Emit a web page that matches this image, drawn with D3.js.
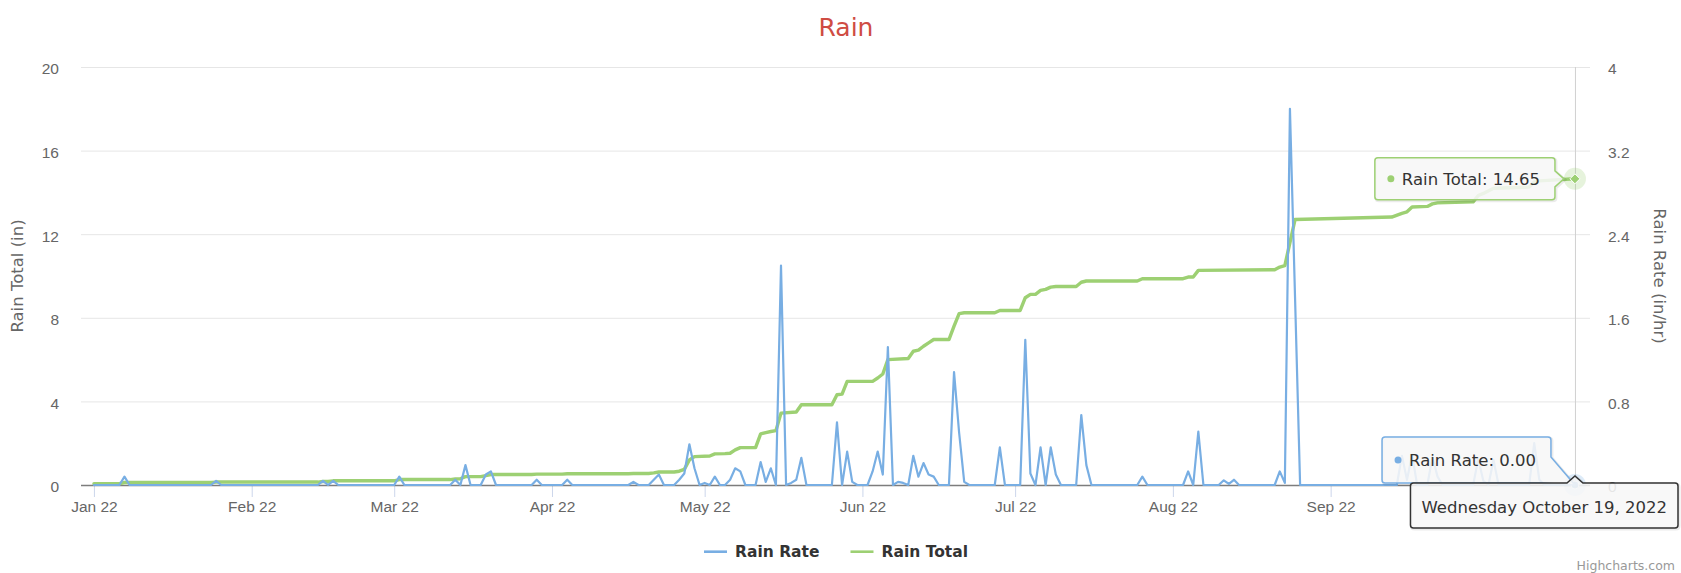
<!DOCTYPE html>
<html>
<head>
<meta charset="utf-8">
<title>Rain</title>
<script src="https://cdn.jsdelivr.net/npm/d3@7"></script>
<style>
    html, body { margin: 0; padding: 0; background: #fff; }
    svg { display: block; font-family: "DejaVu Sans", "Lucida Grande", sans-serif; }
</style>
</head>
<body>
<div id="chart"></div>
<script>
// Rain rate (in/hr), only the vertices of the line
const rateDates = [
    "2022-01-01","2022-01-06","2022-01-07","2022-01-08","2022-01-24","2022-01-25","2022-01-26",
    "2022-02-14","2022-02-15","2022-02-16","2022-02-17","2022-02-18",
    "2022-03-01","2022-03-02","2022-03-03","2022-03-12","2022-03-13","2022-03-14","2022-03-15","2022-03-16",
    "2022-03-18","2022-03-19","2022-03-20","2022-03-21","2022-03-28","2022-03-29","2022-03-30",
    "2022-04-03","2022-04-04","2022-04-05","2022-04-16","2022-04-17","2022-04-18",
    "2022-04-20","2022-04-21","2022-04-22","2022-04-23","2022-04-25","2022-04-26","2022-04-27","2022-04-28","2022-04-29","2022-04-30",
    "2022-05-01","2022-05-02","2022-05-03","2022-05-04","2022-05-05","2022-05-06","2022-05-07","2022-05-08","2022-05-09",
    "2022-05-11","2022-05-12","2022-05-13","2022-05-14","2022-05-15","2022-05-16","2022-05-17","2022-05-18","2022-05-19","2022-05-20","2022-05-21",
    "2022-05-26","2022-05-27","2022-05-28","2022-05-29","2022-05-30","2022-05-31",
    "2022-06-02","2022-06-03","2022-06-04","2022-06-05","2022-06-06","2022-06-07","2022-06-08","2022-06-09","2022-06-10",
    "2022-06-11","2022-06-12","2022-06-13","2022-06-14","2022-06-15","2022-06-16",
    "2022-06-18","2022-06-19","2022-06-20","2022-06-21","2022-06-22","2022-06-27","2022-06-28","2022-06-29",
    "2022-07-02","2022-07-03","2022-07-04","2022-07-05","2022-07-06","2022-07-07","2022-07-08","2022-07-09","2022-07-10",
    "2022-07-13","2022-07-14","2022-07-15","2022-07-16","2022-07-25","2022-07-26","2022-07-27",
    "2022-08-03","2022-08-04","2022-08-05","2022-08-06","2022-08-07","2022-08-10","2022-08-11","2022-08-12","2022-08-13","2022-08-14",
    "2022-08-21","2022-08-22","2022-08-23","2022-08-24","2022-08-25","2022-08-26",
    "2022-09-14","2022-09-15","2022-09-16","2022-09-17","2022-09-18","2022-09-20","2022-09-21","2022-09-22","2022-09-23",
    "2022-09-29","2022-09-30","2022-10-01","2022-10-02","2022-10-03","2022-10-04",
    "2022-10-10","2022-10-11","2022-10-12","2022-10-13","2022-10-19"
];
const rateValues = [
    0, 0, 0.08, 0, 0, 0.04, 0,
    0, 0.04, 0, 0.04, 0,
    0, 0.08, 0, 0, 0.05, 0, 0.19, 0,
    0, 0.1, 0.13, 0, 0, 0.05, 0,
    0, 0.05, 0, 0, 0.03, 0,
    0, 0.05, 0.1, 0, 0, 0.05, 0.11, 0.39, 0.16, 0,
    0.02, 0, 0.08, 0, 0, 0.05, 0.16, 0.13, 0,
    0, 0.22, 0.03, 0.16, 0, 2.1, 0, 0.02, 0.05, 0.26, 0,
    0, 0.6, 0, 0.32, 0.03, 0,
    0, 0.13, 0.32, 0.1, 1.32, 0, 0.03, 0.02, 0,
    0.28, 0.08, 0.21, 0.1, 0.08, 0,
    0, 1.08, 0.5, 0.03, 0, 0, 0.36, 0,
    0, 1.39, 0.11, 0, 0.36, 0, 0.36, 0.1, 0,
    0, 0.67, 0.19, 0, 0, 0.08, 0,
    0, 0.13, 0, 0.51, 0, 0, 0.045, 0.01, 0.05, 0,
    0, 0.13, 0.02, 3.6, 1.8, 0,
    0, 0.28, 0.05, 0.29, 0, 0, 0.27, 0.08, 0,
    0, 0.25, 0.04, 0, 0.24, 0,
    0, 0.4, 0.05, 0, 0
];

// Rain total (in), vertices of the cumulative line
const totalDates = [
    "2022-01-01","2022-01-06","2022-01-07","2022-01-24","2022-01-25","2022-02-14","2022-02-15","2022-02-16","2022-02-17",
    "2022-03-01","2022-03-02","2022-03-12","2022-03-13","2022-03-14","2022-03-15","2022-03-18","2022-03-19","2022-03-20",
    "2022-03-28","2022-03-29","2022-04-03","2022-04-04","2022-04-16","2022-04-17","2022-04-20","2022-04-21","2022-04-22",
    "2022-04-25","2022-04-26","2022-04-27","2022-04-28","2022-04-29",
    "2022-05-02","2022-05-03","2022-05-05","2022-05-06","2022-05-07","2022-05-08","2022-05-11","2022-05-12","2022-05-13",
    "2022-05-14","2022-05-15","2022-05-16","2022-05-19","2022-05-20","2022-05-26","2022-05-27","2022-05-28","2022-05-29",
    "2022-06-03","2022-06-04","2022-06-05","2022-06-06","2022-06-10","2022-06-11","2022-06-12","2022-06-13","2022-06-14",
    "2022-06-15","2022-06-18","2022-06-19","2022-06-20","2022-06-21","2022-06-27","2022-06-28",
    "2022-07-02","2022-07-03","2022-07-04","2022-07-05","2022-07-06","2022-07-07","2022-07-08","2022-07-09","2022-07-13",
    "2022-07-14","2022-07-15","2022-07-25","2022-07-26",
    "2022-08-03","2022-08-04","2022-08-05","2022-08-06","2022-08-21","2022-08-22","2022-08-23","2022-08-25",
    "2022-09-13","2022-09-15","2022-09-16","2022-09-17","2022-09-20","2022-09-21","2022-09-22","2022-09-29","2022-09-30",
    "2022-10-01","2022-10-03","2022-10-10","2022-10-11","2022-10-12","2022-10-19"
];
const totalValues = [
    0.06, 0.06, 0.12, 0.12, 0.14, 0.14, 0.17, 0.17, 0.2,
    0.2, 0.26, 0.26, 0.29, 0.3, 0.4, 0.4, 0.45, 0.5,
    0.5, 0.52, 0.52, 0.54, 0.54, 0.55, 0.55, 0.58, 0.62,
    0.62, 0.66, 0.75, 1.2, 1.36,
    1.39, 1.49, 1.5, 1.52, 1.68, 1.79, 1.79, 2.45, 2.51,
    2.56, 2.6, 3.44, 3.49, 3.84, 3.84, 4.32, 4.35, 4.96,
    4.96, 5.12, 5.31, 6.0, 6.05, 6.4, 6.45, 6.64, 6.8,
    6.96, 6.96, 7.6, 8.2, 8.24, 8.24, 8.35,
    8.35, 8.96, 9.12, 9.12, 9.31, 9.36, 9.47, 9.5, 9.5,
    9.7, 9.76, 9.76, 9.87,
    9.87, 9.95, 9.95, 10.27, 10.3, 10.43, 10.5, 12.7,
    12.82, 13.0, 13.07, 13.3, 13.33, 13.45, 13.5, 13.55, 13.85,
    13.95, 14.2, 14.25, 14.5, 14.55, 14.65
];

const seriesNames = ["Rain Rate", "Rain Total"];
const monthTicks = ["2022-01-01","2022-02-01","2022-03-01","2022-04-01","2022-05-01",
                    "2022-06-01","2022-07-01","2022-08-01","2022-09-01"];
const totalTicks = [0, 4, 8, 12, 16, 20];
const rateTicks = [0, 0.8, 1.6, 2.4, 3.2, 4];
const hoverDate = "2022-10-19";

(function () {
    const parseDate = d3.timeParse("%Y-%m-%d");
    const width = 1681, height = 573;
    const plotLeft = 81, plotRight = 1590, plotTop = 67, plotBottom = 485;
    const blue = "#78aee3", green = "#9dd073";

    const rateData = rateDates.map((d, i) => ({ date: parseDate(d), value: rateValues[i] }));
    const totalData = totalDates.map((d, i) => ({ date: parseDate(d), value: totalValues[i] }));
    const hover = parseDate(hoverDate);

    // Scales
    const x = d3.scaleTime()
        .domain([d3.timeHour.offset(rateData[0].date, -61), d3.timeHour.offset(hover, 71)])
        .range([plotLeft, plotRight]);

    const yTotal = d3.scaleLinear()
        .domain([0, 20])
        .range([plotBottom, plotTop]);

    const yRate = d3.scaleLinear()
        .domain([0, 4])
        .range([plotBottom, plotTop]);

    const svg = d3.select("#chart")
        .append("svg")
        .attr("width", width)
        .attr("height", height);

    // Title
    svg.append("text")
        .attr("x", 846)
        .attr("y", 36)
        .attr("text-anchor", "middle")
        .attr("font-size", "25px")
        .attr("fill", "#cf4c43")
        .text("Rain");

    // Grid lines
    svg.append("g")
        .selectAll("line")
        .data(totalTicks)
        .join("line")
        .attr("x1", plotLeft)
        .attr("x2", plotRight)
        .attr("y1", d => yTotal(d) + 0.5)
        .attr("y2", d => yTotal(d) + 0.5)
        .attr("stroke", "#e6e6e6")
        .attr("stroke-width", 1);

    // Crosshair at hovered date
    svg.append("line")
        .attr("x1", x(hover) + 0.5)
        .attr("x2", x(hover) + 0.5)
        .attr("y1", plotTop)
        .attr("y2", plotBottom)
        .attr("stroke", "#d0d0d0")
        .attr("stroke-width", 1);

    // X axis
    const xAxis = svg.append("g")
        .attr("transform", `translate(0,${plotBottom})`)
        .call(d3.axisBottom(x)
            .tickValues(monthTicks.map(parseDate))
            .tickFormat(d3.timeFormat("%b %y"))
            .tickSize(12)
            .tickPadding(4));
    xAxis.select(".domain").remove();
    xAxis.selectAll(".tick line").attr("stroke", "#ccd6eb");
    xAxis.selectAll("text")
        .attr("fill", "#666")
        .attr("font-size", "15.5px")
        .attr("font-family", null);

    svg.append("line")
        .attr("x1", plotLeft)
        .attr("x2", plotRight)
        .attr("y1", plotBottom + 0.5)
        .attr("y2", plotBottom + 0.5)
        .attr("stroke", "#7d7d7d")
        .attr("stroke-width", 1.5);

    // Left axis (Rain Total)
    const leftAxis = svg.append("g")
        .attr("transform", `translate(${plotLeft},2)`)
        .call(d3.axisLeft(yTotal).tickValues(totalTicks).tickSize(0).tickPadding(22));
    leftAxis.select(".domain").remove();
    leftAxis.selectAll("text")
        .attr("fill", "#666")
        .attr("font-size", "15.5px")
        .attr("font-family", null);

    // Right axis (Rain Rate)
    const rightAxis = svg.append("g")
        .attr("transform", `translate(${plotRight},2)`)
        .call(d3.axisRight(yRate).tickValues(rateTicks).tickSize(0).tickPadding(18).tickFormat(d => String(d)));
    rightAxis.select(".domain").remove();
    rightAxis.selectAll("text")
        .attr("fill", "#666")
        .attr("font-size", "15.5px")
        .attr("font-family", null);

    // Axis titles
    svg.append("text")
        .attr("transform", `translate(17,${(plotTop + plotBottom) / 2}) rotate(-90)`)
        .attr("text-anchor", "middle")
        .attr("dy", "0.35em")
        .attr("font-size", "16.5px")
        .attr("fill", "#666")
        .text("Rain Total (in)");

    svg.append("text")
        .attr("transform", `translate(1660,${(plotTop + plotBottom) / 2}) rotate(90)`)
        .attr("text-anchor", "middle")
        .attr("dy", "0.35em")
        .attr("font-size", "16.5px")
        .attr("fill", "#666")
        .text("Rain Rate (in/hr)");

    // Series
    const totalLine = d3.line()
        .x(d => x(d.date))
        .y(d => yTotal(d.value));

    const rateLine = d3.line()
        .x(d => x(d.date))
        .y(d => yRate(d.value));

    svg.append("path")
        .datum(totalData)
        .attr("d", totalLine)
        .attr("fill", "none")
        .attr("stroke", green)
        .attr("stroke-width", 3.4)
        .attr("stroke-linejoin", "round")
        .attr("stroke-linecap", "round");

    svg.append("path")
        .datum(rateData)
        .attr("d", rateLine)
        .attr("fill", "none")
        .attr("stroke", blue)
        .attr("stroke-width", 2.2)
        .attr("stroke-linejoin", "round")
        .attr("stroke-linecap", "round");

    // Hover markers
    const lastTotal = totalData[totalData.length - 1];
    const lastRate = rateData[rateData.length - 1];
    const gx0 = x(lastTotal.date), gy0 = yTotal(lastTotal.value);
    const bx0 = x(lastRate.date), by0 = yRate(lastRate.value);

    svg.append("circle").attr("cx", gx0).attr("cy", gy0).attr("r", 11)
        .attr("fill", green).attr("fill-opacity", 0.25);
    svg.append("path")
        .attr("d", `M${gx0},${gy0 - 5} L${gx0 + 5},${gy0} L${gx0},${gy0 + 5} L${gx0 - 5},${gy0} Z`)
        .attr("fill", green).attr("stroke", "#fff").attr("stroke-width", 1);

    svg.append("circle").attr("cx", bx0).attr("cy", by0).attr("r", 11)
        .attr("fill", blue).attr("fill-opacity", 0.25);
    svg.append("circle").attr("cx", bx0).attr("cy", by0).attr("r", 4)
        .attr("fill", blue).attr("stroke", "#fff").attr("stroke-width", 1);

    // Tooltips
    const tipFill = "rgba(247,247,247,0.88)";
    const fmt = d3.format(".2f");

    function addShadow(d) {
        svg.append("path")
            .attr("d", d)
            .attr("transform", "translate(1,1)")
            .attr("fill", "none")
            .attr("stroke", "#000")
            .attr("stroke-opacity", 0.08)
            .attr("stroke-width", 3);
    }

    function tipLabel(g, tx, ty, color, label) {
        g.append("circle").attr("cx", tx).attr("cy", ty).attr("r", 3.5).attr("fill", color);
        const t = g.append("text")
            .attr("x", tx + 11)
            .attr("y", ty + 6)
            .attr("font-size", "16.5px")
            .attr("fill", "#333")
            .text(label);
        return t;
    }

    // Rain Total tooltip
    const gTip = svg.append("g");
    const gText = tipLabel(gTip, 0, 0, green, `${seriesNames[1]}: ${fmt(lastTotal.value)}`);
    const gw = gText.node().getComputedTextLength() + 42, gh = 42;
    const gx = gx0 - 20 - gw, gy = gy0 - gh / 2;
    gTip.remove();
    const gPath = `M${gx + 3},${gy} H${gx + gw - 3} Q${gx + gw},${gy} ${gx + gw},${gy + 3} V${gy0 - 8} L${gx + gw + 9},${gy0} L${gx + gw},${gy0 + 8} V${gy + gh - 3} Q${gx + gw},${gy + gh} ${gx + gw - 3},${gy + gh} H${gx + 3} Q${gx},${gy + gh} ${gx},${gy + gh - 3} V${gy + 3} Q${gx},${gy} ${gx + 3},${gy} Z`;
    addShadow(gPath);
    svg.append("path").attr("d", gPath).attr("fill", tipFill).attr("stroke", green).attr("stroke-width", 1.5);
    tipLabel(svg.append("g"), gx + 16, gy0, green, `${seriesNames[1]}: ${fmt(lastTotal.value)}`);

    // Rain Rate tooltip
    const bTip = svg.append("g");
    const bText = tipLabel(bTip, 0, 0, blue, `${seriesNames[0]}: ${fmt(lastRate.value)}`);
    const bw = bText.node().getComputedTextLength() + 42, bh = 46;
    const bx = bx0 - 24 - bw, by = by0 - 2 - bh;
    bTip.remove();
    const bPath = `M${bx + 3},${by} H${bx + bw - 3} Q${bx + bw},${by} ${bx + bw},${by + 3} V${by + bh - 26} L${bx0},${by0} L${bx + bw - 10},${by + bh} H${bx + 3} Q${bx},${by + bh} ${bx},${by + bh - 3} V${by + 3} Q${bx},${by} ${bx + 3},${by} Z`;
    addShadow(bPath);
    svg.append("path").attr("d", bPath).attr("fill", tipFill).attr("stroke", blue).attr("stroke-width", 1.5);
    tipLabel(svg.append("g"), bx + 16, by + bh / 2, blue, `${seriesNames[0]}: ${fmt(lastRate.value)}`);

    // Date header tooltip
    const headerText = d3.timeFormat("%A %B %-d, %Y")(hover);
    const hTmp = svg.append("text").attr("font-size", "16.5px").text(headerText);
    const hw = hTmp.node().getComputedTextLength() + 22, hh = 45;
    hTmp.remove();
    const hx = width - 3 - hw, hy = plotBottom - 2;
    const hPath = `M${hx + 3},${hy} H${bx0 - 8} L${bx0},${hy - 7} L${bx0 + 8},${hy} H${hx + hw - 3} Q${hx + hw},${hy} ${hx + hw},${hy + 3} V${hy + hh - 3} Q${hx + hw},${hy + hh} ${hx + hw - 3},${hy + hh} H${hx + 3} Q${hx},${hy + hh} ${hx},${hy + hh - 3} V${hy + 3} Q${hx},${hy} ${hx + 3},${hy} Z`;
    addShadow(hPath);
    svg.append("path").attr("d", hPath).attr("fill", tipFill).attr("stroke", "#333").attr("stroke-width", 1.5);
    svg.append("text")
        .attr("x", hx + 11)
        .attr("y", hy + 29.5)
        .attr("font-size", "16.5px")
        .attr("fill", "#333")
        .text(headerText);

    // Legend
    const legend = svg.append("g");
    const colors = [blue, green];
    let cursor = 0;
    seriesNames.forEach((name, i) => {
        const item = legend.append("g").attr("transform", `translate(${cursor},0)`);
        item.append("line")
            .attr("x1", 0).attr("x2", 23)
            .attr("y1", 0).attr("y2", 0)
            .attr("stroke", colors[i])
            .attr("stroke-width", 2.6);
        const t = item.append("text")
            .attr("x", 31)
            .attr("y", 5.6)
            .attr("font-size", "15.5px")
            .attr("font-weight", "bold")
            .attr("fill", "#333")
            .text(name);
        cursor += 31 + t.node().getComputedTextLength() + 31;
    });
    legend.attr("transform", `translate(${836 - (cursor - 31) / 2},551.7)`);

    // Credits
    svg.append("text")
        .attr("x", 1675)
        .attr("y", 570)
        .attr("text-anchor", "end")
        .attr("font-size", "12.5px")
        .attr("fill", "#999")
        .text("Highcharts.com");
})();
</script>
</body>
</html>
